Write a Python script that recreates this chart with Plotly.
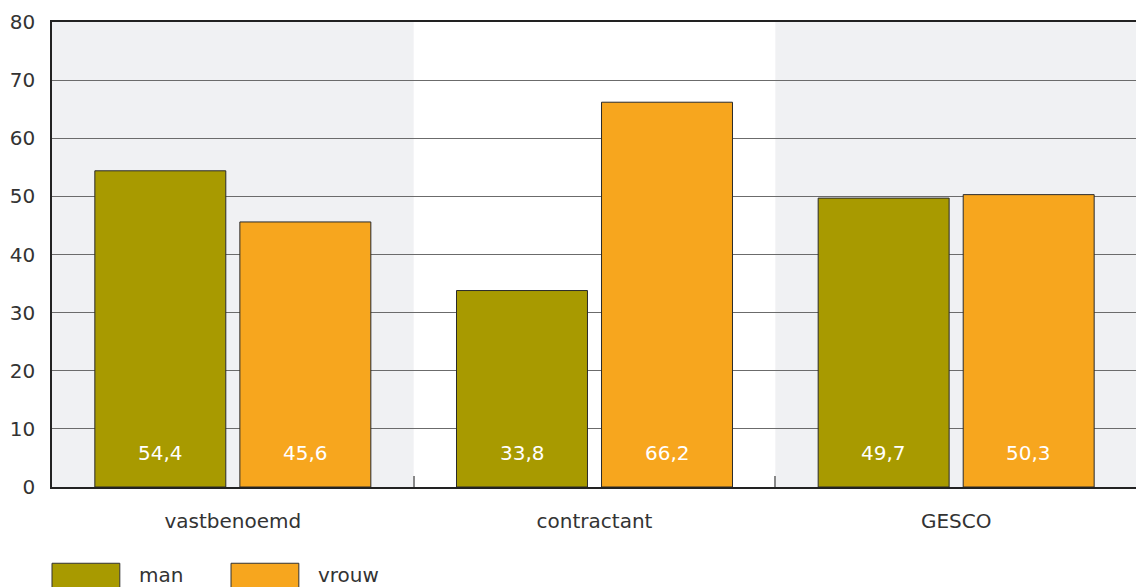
import plotly.graph_objects as go

categories = ["vastbenoemd", "contractant", "GESCO"]
man = [54.4, 33.8, 49.7]
vrouw = [45.6, 66.2, 50.3]
series_names = ["man", "vrouw"]
y_ticks = [0, 10, 20, 30, 40, 50, 60, 70, 80]

colors = ["#a89a00", "#f7a61e"]
FONT = "'DejaVu Sans', sans-serif"
FS = 20

fig = go.Figure()
for name, vals, col in zip(series_names, [man, vrouw], colors):
    fig.add_trace(go.Bar(
        x=categories, y=vals, name=name,
        marker=dict(color=col, line=dict(color="#2a2a2a", width=1)),
        showlegend=False,
    ))

def fmt(v):
    return f"{v:.1f}".replace(".", ",")

# value labels at bottom inside bars
for i, cat in enumerate(categories):
    for j, vals in enumerate([man, vrouw]):
        fig.add_annotation(
            x=cat, y=5.8, xref="x", yref="y",
            text=fmt(vals[i]), showarrow=False,
            xshift=(-72.5 if j == 0 else 72.5),
            font=dict(color="white", size=FS, family=FONT),
        )

# shaded bands
for i in (0, 2):
    fig.add_shape(type="rect", xref="x", yref="paper",
                  x0=i - 0.5, x1=i + 0.5, y0=0, y1=1,
                  fillcolor="#f0f1f3", line=dict(width=0), layer="below")

# manual legend
leg_x = [0.0, 0.165]
for name, col, lx in zip(series_names, colors, leg_x):
    fig.add_shape(type="rect", xref="paper", yref="paper",
                  x0=lx, x1=lx + 0.0625, y0=-0.24, y1=-0.164,
                  fillcolor=col, line=dict(color="#333333", width=1))
    fig.add_annotation(x=lx + 0.0785, y=-0.19, xref="paper", yref="paper",
                       text=name, showarrow=False, xanchor="left", yanchor="middle",
                       font=dict(size=FS, color="#333333", family=FONT))

fig.update_layout(
    width=1144, height=587,
    margin=dict(l=44, r=15, t=14, b=108, autoexpand=False),
    paper_bgcolor="white", plot_bgcolor="white",
    barmode="group", bargap=0.198, bargroupgap=0.097,
    font=dict(family=FONT, color="#333333", size=FS),
)
fig.update_xaxes(
    automargin=False,
    showline=True, linecolor="#222222", linewidth=1.5, mirror=True,
    ticks="inside", tickson="boundaries", ticklen=11, tickcolor="#888888", tickwidth=2,
    ticklabelstandoff=15, showgrid=False,
    tickfont=dict(size=FS, color="#333333"),
)
fig.update_yaxes(
    automargin=False,
    range=[0, 80], tickvals=y_ticks,
    showline=True, linecolor="#222222", linewidth=1.5,
    showgrid=True, gridcolor="#6b6b6b", gridwidth=1,
    zeroline=False, ticks="", ticklabelstandoff=11,
    tickfont=dict(size=FS, color="#333333"),
)

fig.write_html("out.html")
